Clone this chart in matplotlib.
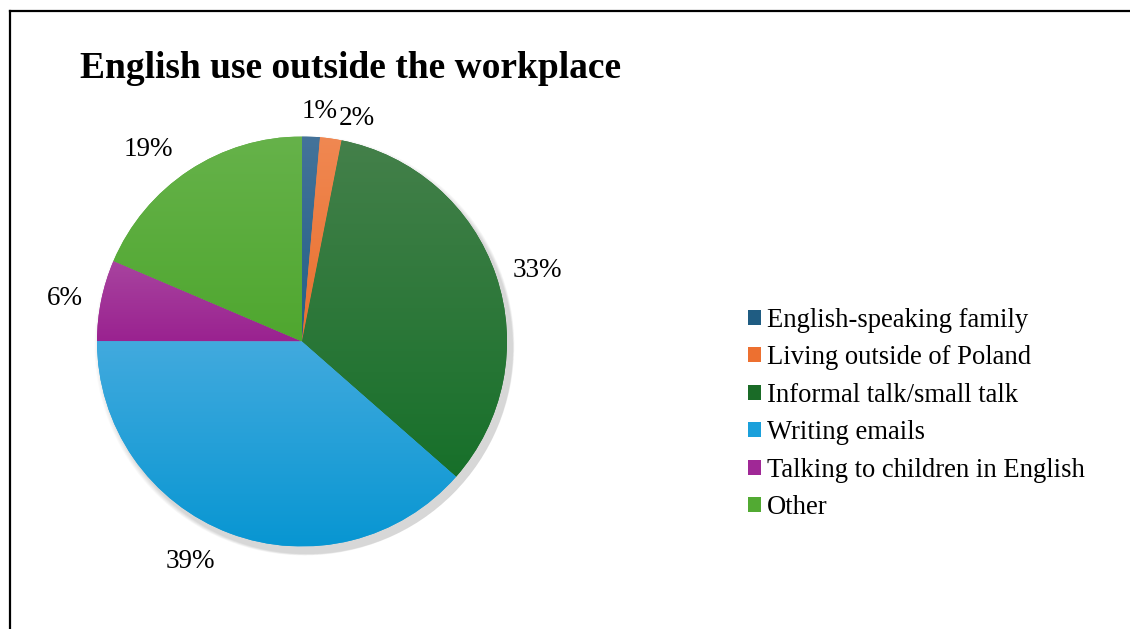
import numpy as np
import matplotlib.pyplot as plt
from matplotlib.colors import LinearSegmentedColormap
from matplotlib.lines import Line2D

# data (percent of answers)
categories = ["English-speaking family", "Living outside of Poland",
              "Informal talk/small talk", "Writing emails",
              "Talking to children in English", "Other"]
shares = [1.4, 1.7, 33.4, 38.6, 6.4, 18.6]

# top / bottom colours of each slice's gradient
top_colors = ["#44739a", "#f08852", "#44804a", "#42aade", "#a8449f", "#66b24a"]
bottom_colors = ["#235f87", "#e9702e", "#17702a", "#0896d2", "#9a2290", "#4fa72f"]
legend_colors = ["#1f5c82", "#ed7030", "#1a6b27", "#1ba0db", "#a02896", "#52aa33"]

# where the percent labels sit (pie radius = 1)
label_pos = [(0.085, 1.12), (0.265, 1.09), (1.146, 0.345),
             (-0.546, -1.075), (-1.156, 0.21), (-0.751, 0.935)]

plt.rcParams['font.family'] = ['Liberation Serif', 'DejaVu Serif']

W, H = 1130, 629
fig = plt.figure(figsize=(W / 100, H / 100), dpi=100)

# frame lines at top and left
fig.add_artist(Line2D([10 / W, 1], [1 - 11 / H, 1 - 11 / H], color="black", lw=1.6))
fig.add_artist(Line2D([10 / W, 10 / W], [0, 1 - 11 / H], color="black", lw=1.6))

cx, cy, r = 302, 341.5, 205
ax = fig.add_axes([(cx - r) / W, (H - cy - r) / H, 2 * r / W, 2 * r / H])

wedges, _, pct_texts = ax.pie(
    shares, startangle=90, counterclock=False, radius=1,
    colors=legend_colors, autopct="%.0f%%", pctdistance=1.2,
    textprops=dict(fontsize=19.5, color="black"),
    wedgeprops=dict(linewidth=0))

# soft shadow under the pie
for i in range(8):
    sh = plt.Circle((0.012 + i * 0.002, -0.02 - i * 0.002), 1.0 + 0.003 * (8 - i),
                    color="black", alpha=0.018, zorder=0.5, lw=0, clip_on=False)
    ax.add_patch(sh)

# vertical gradient inside every slice
grad = np.linspace(1, 0, 256).reshape(-1, 1)
for w, c0, c1 in zip(wedges, top_colors, bottom_colors):
    bb = w.get_path().get_extents(w.get_patch_transform())
    cmap = LinearSegmentedColormap.from_list("g", [c1, c0])
    im = ax.imshow(grad, cmap=cmap, aspect="auto", origin="upper",
                   extent=[bb.x0, bb.x1, bb.y0, bb.y1], zorder=2)
    im.set_clip_path(w)

ax.set_xlim(-1, 1)
ax.set_ylim(-1, 1)
ax.set_aspect("equal")
ax.axis("off")

for t, p in zip(pct_texts, label_pos):
    t.set_position(p)

fig.text(80 / W, 1 - 69 / H, "English use outside the workplace",
         fontsize=27, fontweight="bold", va="center", ha="left")

fig.legend(wedges, categories, loc="center left",
           bbox_to_anchor=(737 / W, 1 - 414 / H), frameon=False,
           fontsize=19.2, handlelength=0.5, handleheight=0.5,
           handletextpad=0.22, labelspacing=0.47, borderaxespad=0)

fig.savefig("out.png", dpi=100, facecolor="white")
